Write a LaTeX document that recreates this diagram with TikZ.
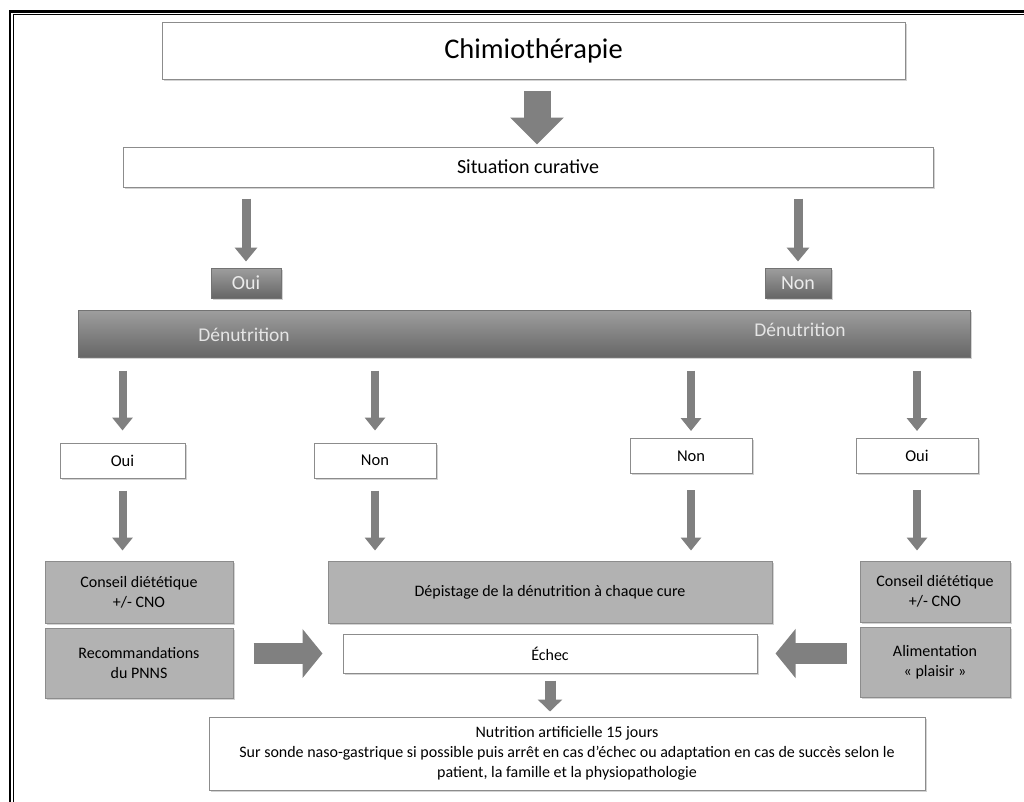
\documentclass[tikz,border=0pt]{standalone}
\usepackage{fontspec}
\setmainfont{Carlito}
\usetikzlibrary{arrows.meta,shadows,calc}
\begin{document}
\begin{tikzpicture}[x=1pt,y=-1pt,
  box/.style={draw=black!45, line width=1pt, inner sep=0pt, align=center,
    drop shadow={shadow xshift=1.5pt,shadow yshift=-1.5pt,opacity=0.35}},
  whitebox/.style={box, fill=white},
  greybox/.style={box, fill=black!30},
  darkbox/.style={box, draw=black!55, top color=black!38, bottom color=black!60,
    text=white!92!black},
  bandtext/.style={inner sep=0pt, text=white!90!black, font=\fontsize{19.5}{23}\selectfont},
  vflow/.style={draw=black!50, line width=8pt, -{Triangle[width=20pt,length=13pt]}},
  bigflow/.style={draw=black!50, line width=27pt, -{Triangle[width=52pt,length=27pt]}},
  hflow/.style={draw=black!50, line width=21pt, -{Triangle[width=48pt,length=20pt]}},
  smallflow/.style={draw=black!50, line width=11pt, -{Triangle[width=24pt,length=12pt]}},
]
\useasboundingbox (0,0) rectangle (1024,801);
% double frame, running off the page on the right and bottom
\begin{scope}
  \clip (0,0) rectangle (1024,801);
  \draw[line width=2.6pt] (9.8,11.3) rectangle (1050,830);
  \draw[line width=0.9pt] (13.6,14.6) rectangle (1050,830);
\end{scope}

% top of the chart
\node[whitebox, minimum width=743pt, minimum height=57pt,
  font=\fontsize{28.5}{33}\selectfont] (chimio) at (533.5,50.5) {Chimiothérapie};
\node[whitebox, minimum width=810pt, minimum height=40pt,
  font=\fontsize{20}{24}\selectfont] (sit) at (528,167) {Situation curative};

\node[darkbox, minimum width=70pt, minimum height=30pt,
  font=\fontsize{20}{24}\selectfont] (ouiD) at (246,283) {Oui};
\node[darkbox, minimum width=66pt, minimum height=30pt,
  font=\fontsize{20}{24}\selectfont] (nonD) at (798,283) {Non};

% Dénutrition band
\node[darkbox, minimum width=892pt, minimum height=47pt] (band) at (524,333.5) {};
\node[bandtext] (dn1) at (244,335) {Dénutrition};
\node[bandtext] (dn2) at (800,330) {Dénutrition};

% answer boxes
\begin{scope}[every node/.style={whitebox, minimum width=122pt, minimum height=35pt,
    font=\fontsize{16.5}{20}\selectfont}]
  \node[minimum width=125pt] (oui1) at (122.5,460.5) {Oui};
  \node (non1) at (375,460.5) {Non};
  \node (non2) at (691,456) {Non};
  \node (oui2) at (917,456) {Oui};
\end{scope}

% actions
\node[greybox, minimum width=188pt, minimum height=62pt,
  font=\fontsize{16}{20}\selectfont] (conseilL) at (139,592) {Conseil diététique\\+/- CNO};
\node[greybox, minimum width=188pt, minimum height=70pt,
  font=\fontsize{16}{20}\selectfont] (recoL) at (139,663) {Recommandations\\du PNNS};
\node[greybox, minimum width=444pt, minimum height=62pt,
  font=\fontsize{16}{20}\selectfont] (depist) at (550,592) {Dépistage de la dénutrition à chaque cure};
\node[whitebox, minimum width=414pt, minimum height=39pt,
  font=\fontsize{16}{20}\selectfont] (echec) at (550,653.5) {Échec};
\node[greybox, minimum width=150pt, minimum height=61pt,
  font=\fontsize{16}{20}\selectfont] (conseilR) at (935,591.5) {Conseil diététique\\+/- CNO};
\node[greybox, minimum width=150pt, minimum height=70pt,
  font=\fontsize{16}{20}\selectfont] (alim) at (935,662) {Alimentation\\« plaisir »};

\node[whitebox, minimum width=716pt, minimum height=73pt,
  font=\fontsize{16}{20}\selectfont] (nutri) at (567,753.5)
  {Nutrition artificielle 15 jours\\Sur sonde naso-gastrique si possible puis arrêt en cas d’échec ou adaptation en cas de succès selon le\\patient, la famille et la physiopathologie};

% block arrows
\draw[bigflow, shorten <=11pt, shorten >=2pt]
  ([xshift=3.5pt]chimio.south) -- ([xshift=3.5pt]chimio.south |- sit.north);
\draw[vflow, line width=9pt, -{Triangle[width=22pt,length=14pt]}, shorten <=11pt, shorten >=6pt]
  (sit.south -| ouiD.north) -- (ouiD.north);
\draw[vflow, line width=9pt, -{Triangle[width=22pt,length=14pt]}, shorten <=11pt, shorten >=6pt]
  (sit.south -| nonD.north) -- (nonD.north);

\draw[vflow, shorten <=13pt, shorten >=12pt] (band.south -| oui1.north) -- (oui1.north);
\draw[vflow, shorten <=13pt, shorten >=12pt] (band.south -| non1.north) -- (non1.north);
\draw[vflow, shorten <=13pt, shorten >=7pt] (band.south -| non2.north) -- (non2.north);
\draw[vflow, shorten <=13pt, shorten >=7pt] (band.south -| oui2.north) -- (oui2.north);

\draw[vflow, shorten <=12pt, shorten >=10pt] (oui1.south) -- (oui1.south |- conseilL.north);
\draw[vflow, shorten <=12pt, shorten >=10pt] (non1.south) -- (non1.south |- depist.north);
\draw[vflow, shorten <=16pt, shorten >=10pt] (non2.south) -- (non2.south |- depist.north);
\draw[vflow, shorten <=16pt, shorten >=10pt] (oui2.south) -- (oui2.south |- conseilR.north);

\draw[hflow, shorten <=20pt, shorten >=20pt] (recoL.east |- echec.west) -- (echec.west);
\draw[hflow, shorten <=13pt, shorten >=18pt] (alim.west |- echec.east) -- (echec.east);

\draw[smallflow, shorten <=7pt, shorten >=5pt] (echec.south) -- (echec.south |- nutri.north);
\end{tikzpicture}
\end{document}
